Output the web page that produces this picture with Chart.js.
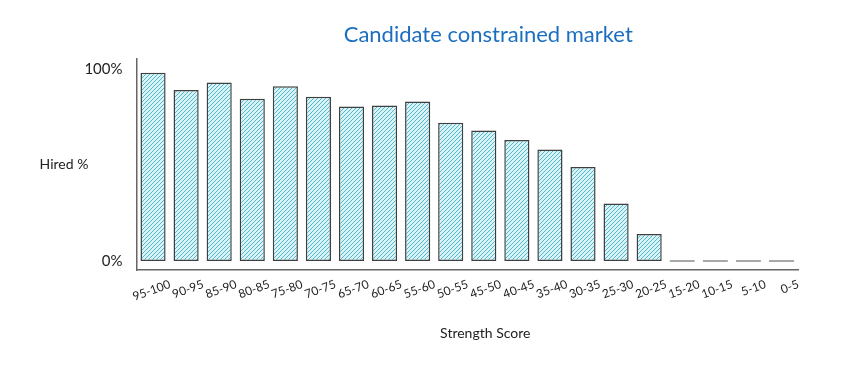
<!DOCTYPE html>
<html>
<head>
<meta charset="utf-8">
<script src="https://cdn.jsdelivr.net/npm/chart.js@4/dist/chart.umd.min.js"></script>
<style>
  html, body { margin: 0; padding: 0; background: #fff; }
  #wrap { width: 846px; height: 370px; position: relative; }
</style>
</head>
<body>
<div id="wrap"><canvas id="hiredChart"></canvas></div>
<script>
const scoreBands = ['95-100', '90-95', '85-90', '80-85', '75-80', '70-75', '65-70', '60-65', '55-60', '50-55',
  '45-50', '40-45', '35-40', '30-35', '25-30', '20-25', '15-20', '10-15', '5-10', '0-5'];
const hiredPct = [98, 89, 93, 84.5, 91, 85.5, 80.5, 81, 83, 72, 68, 63, 58, 49, 30, 14, 0, 0, 0, 0];
const yTicks = [0, 100];

const chartTitle = 'Candidate constrained market';
const yTitle = 'Hired %';
const xTitle = 'Strength Score';
const font = 'Lato, "Noto Sans", sans-serif';

function hatch() {
  const c = document.createElement('canvas');
  c.width = 4; c.height = 4;
  const g = c.getContext('2d');
  g.fillStyle = '#d9f2f6';
  g.fillRect(0, 0, 4, 4);
  g.strokeStyle = 'rgba(40,165,190,0.85)';
  g.lineWidth = 0.9;
  g.beginPath();
  g.moveTo(-1, 5); g.lineTo(5, -1);
  g.moveTo(-1, 1); g.lineTo(1, -1);
  g.moveTo(3, 5); g.lineTo(5, 3);
  g.stroke();
  return g.createPattern(c, 'repeat');
}

// titles drawn relative to the chart area, like the sketch
const sketchText = {
  id: 'sketchText',
  afterDraw(chart) {
    const { ctx, chartArea: a } = chart;
    const mid = (a.left + a.right) / 2;
    ctx.save();
    ctx.textAlign = 'center';
    ctx.textBaseline = 'middle';
    ctx.fillStyle = '#1c6fc0';
    ctx.font = '22px ' + font;
    ctx.fillText(chartTitle, mid + 21, 35);
    ctx.fillStyle = '#222';
    ctx.font = '14px ' + font;
    ctx.fillText(yTitle, 64, chart.scales.y.getPixelForValue(50));
    ctx.fillText(xTitle, mid + 18, 333);
    ctx.restore();
  }
};

new Chart(document.getElementById('hiredChart'), {
  type: 'bar',
  data: {
    labels: scoreBands,
    datasets: [{
      data: hiredPct,
      backgroundColor: hatch(),
      borderColor: (c) => (c.raw === 0 ? '#666' : '#3f3f3f'),
      borderWidth: 1.5,
      borderSkipped: false,
      minBarLength: 1.5,
      barPercentage: 0.76,
      categoryPercentage: 1
    }]
  },
  options: {
    responsive: true,
    maintainAspectRatio: false,
    animation: false,
    layout: { padding: { top: 59, right: 48, left: 0, bottom: 0 } },
    plugins: { legend: { display: false }, tooltip: { enabled: false } },
    scales: {
      x: {
        grid: { display: false, drawTicks: false },
        border: { color: '#666', width: 1.5 },
        afterFit: (s) => { s.height = 100; },
        ticks: {
          color: '#222', font: { family: font, size: 12 },
          minRotation: 20, maxRotation: 20, padding: 7, labelOffset: 17, autoSkip: false
        }
      },
      y: {
        min: -4.7, max: 105.2,
        grid: { display: false, drawTicks: false },
        border: { color: '#666', width: 1.5 },
        afterFit: (s) => { s.width = 136.5; },
        afterBuildTicks: (s) => { s.ticks = yTicks.map((v) => ({ value: v })); },
        ticks: {
          color: '#222', font: { family: font, size: 15 }, padding: 14,
          callback: (v) => v + '%'
        }
      }
    }
  },
  plugins: [sketchText]
});
</script>
</body>
</html>
